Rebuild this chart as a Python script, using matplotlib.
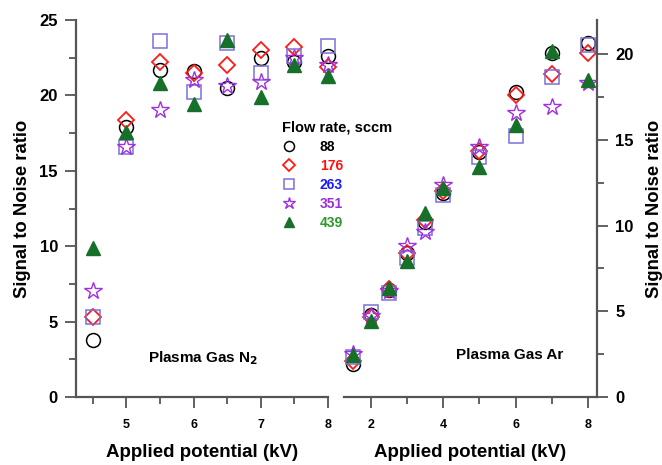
import numpy as np
import matplotlib
matplotlib.use('Agg')
import matplotlib.pyplot as plt
from matplotlib.ticker import MultipleLocator

plt.rcParams['font.family'] = ['Liberation Sans', 'DejaVu Sans']
plt.rcParams['font.weight'] = 'bold'

# N2 panel
n2_kv = [4.5, 5.0, 5.5, 6.0, 6.5, 7.0, 7.5, 8.0]
n2_88 = [3.8, 17.9, 21.7, 21.6, 20.5, 22.5, 22.2, 22.6]
n2_176 = [5.3, 18.4, 22.2, 21.5, 22.0, 23.0, 23.2, 21.9]
n2_263 = [5.3, 16.6, 23.6, 20.2, 23.5, 21.5, 22.6, 23.3]
n2_351 = [7.0, 16.6, 19.0, 21.0, 20.6, 20.9, 22.5, 22.0]
n2_439 = [9.9, 17.6, 20.8, 19.4, 23.7, 19.9, 22.0, 21.3]

# Ar panel
ar_kv = [1.5, 2.0, 2.5, 3.0, 3.5, 4.0, 5.0, 6.0, 7.0, 8.0]
ar_88 = [1.95, 4.8, 6.25, 8.4, 10.2, 11.9, 14.3, 17.8, 20.1, 20.65]
ar_176 = [2.1, 4.65, 6.3, 8.4, 10.35, 12.0, 14.35, 17.65, 18.85, 20.05]
ar_263 = [2.35, 4.95, 6.05, 8.1, 9.85, 11.8, 14.0, 15.25, 18.7, 20.55]
ar_351 = [2.5, 4.75, 6.2, 8.8, 9.65, 12.4, 14.6, 16.55, 16.9, 18.35]
ar_439 = [2.45, 4.45, 6.35, 7.95, 10.75, 12.2, 13.45, 15.9, 20.2, 18.5]

flow_labels = ['88', '176', '263', '351', '439']
text_colors = ['black', '#ff1010', '#1a1aff', '#9a30d8', '#2a9a2a']

styles = [
    dict(marker='o', mfc='none', mec='black', ms=10, mew=1.1),
    dict(marker='D', mfc='none', mec='#ff1a1a', ms=8.5, mew=1.3),
    dict(marker='s', mfc='none', mec='#7a70d8', ms=10.5, mew=1.1),
    dict(marker='*', mfc='none', mec='#a030e0', ms=13, mew=1.0),
    dict(marker='^', mfc='#17702a', mec='#17702a', ms=10, mew=1.0),
]

fig = plt.figure(figsize=(6.62, 4.65), dpi=100)
ax1 = fig.add_axes([0.1148, 0.1462, 0.3807, 0.8108])
ax2 = fig.add_axes([0.5196, 0.1462, 0.3822, 0.8108])

spine_col = '#555555'

for ys, st, lab in zip([n2_88, n2_176, n2_263, n2_351, n2_439], styles, flow_labels):
    ax1.plot(n2_kv, ys, ls='none', label=lab, clip_on=False, **st)
for ys, st in zip([ar_88, ar_176, ar_263, ar_351, ar_439], styles):
    ax2.plot(ar_kv, ys, ls='none', clip_on=False, **st)

ax1.set_xlim(4.25, 8.0)
ax1.set_ylim(0, 25)
ax1.xaxis.set_major_locator(MultipleLocator(1))
ax1.xaxis.set_minor_locator(MultipleLocator(0.5))
ax1.yaxis.set_major_locator(MultipleLocator(5))
ax1.yaxis.set_minor_locator(MultipleLocator(2.5))
ax1.spines['top'].set_visible(False)
ax1.spines['right'].set_visible(False)

ax2.set_xlim(1.26, 8.25)
ax2.set_ylim(0, 22)
ax2.xaxis.set_major_locator(MultipleLocator(2))
ax2.xaxis.set_minor_locator(MultipleLocator(1))
ax2.yaxis.set_major_locator(MultipleLocator(5))
ax2.yaxis.set_minor_locator(MultipleLocator(2.5))
ax2.spines['top'].set_visible(False)
ax2.spines['left'].set_visible(False)
ax2.yaxis.tick_right()
ax2.yaxis.set_label_position('right')

for ax in (ax1, ax2):
    for s in ax.spines.values():
        s.set_color(spine_col)
        s.set_linewidth(1.6)
    ax.patch.set_alpha(0)
    ax.tick_params(which='major', length=8, width=1.3, color=spine_col, labelsize=12, pad=5)
    ax.tick_params(which='minor', length=5, width=1.3, color=spine_col)
    ax.tick_params(axis='x', labelsize=9, pad=8)
    ax.set_xlabel('Applied potential (kV)', fontsize=13.5, fontweight='bold', labelpad=9)
    ax.set_ylabel('Signal to Noise ratio', fontsize=13.3, fontweight='bold')

ax1.yaxis.labelpad = 6
ax2.yaxis.labelpad = 9
ax2.yaxis.label.set_rotation(90)

ax1.text(6.15, 2.6, 'Plasma Gas N$_\\mathbf{2}$', ha='center', va='center', fontsize=11,
         fontweight='bold')
ax2.text(5.85, 2.45, 'Plasma Gas Ar', ha='center', va='center', fontsize=11,
         fontweight='bold')

leg = fig.legend(*ax1.get_legend_handles_labels(), title='Flow rate, sccm', frameon=False,
                 loc='upper left', bbox_to_anchor=(0.418, 0.752), fontsize=10,
                 title_fontproperties={'weight': 'bold', 'size': 10.5},
                 handletextpad=1.7, labelspacing=0.36, handlelength=1.0, borderaxespad=0,
                 markerscale=0.72)
leg._legend_box.align = 'left'
for t, c in zip(leg.get_texts(), text_colors):
    t.set_color(c)
    t.set_fontweight('bold')

fig.savefig('out.png', dpi=100)
